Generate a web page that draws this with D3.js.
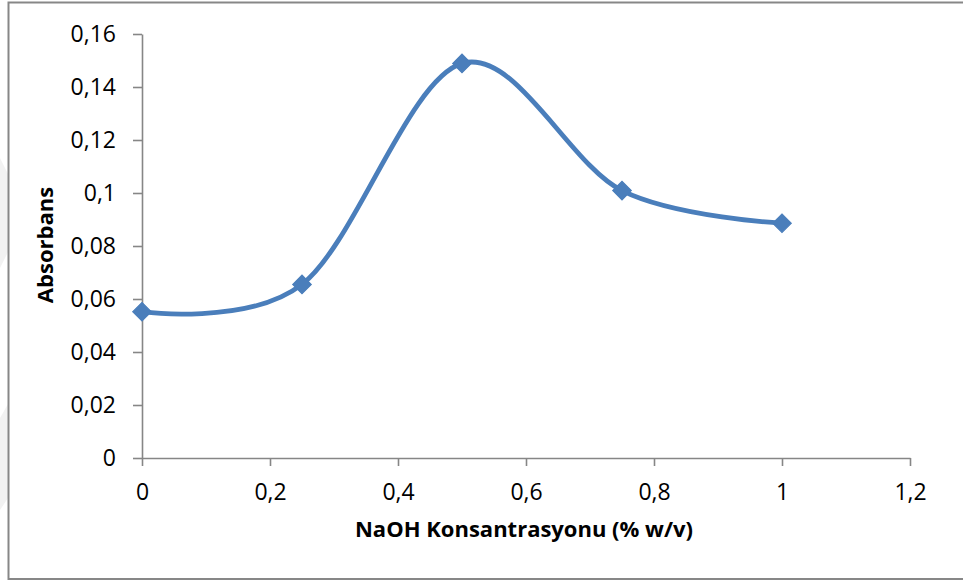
<!DOCTYPE html>
<html>
<head>
<meta charset="utf-8">
<script src="https://cdn.jsdelivr.net/npm/d3@7"></script>
<style>
  html, body { margin: 0; padding: 0; background: #ffffff; }
  svg { display: block; }
  text { font-family: "Open Sans", Lato, sans-serif; fill: #000; }
</style>
</head>
<body>
<svg id="chart" width="963" height="581"></svg>
<script>
// NaOH concentration (% w/v) and measured absorbance
const concentrations = [0, 0.25, 0.5, 0.75, 1];
const absorbance = [0.0552, 0.0655, 0.1489, 0.1009, 0.0886];

const xTicks = [0, 0.2, 0.4, 0.6, 0.8, 1, 1.2];
const yTicks = [0, 0.02, 0.04, 0.06, 0.08, 0.1, 0.12, 0.14, 0.16];

const xTitle = "NaOH Konsantrasyonu (% w/v)";
const yTitle = "Absorbans";

const W = 963, H = 581;
const plot = { left: 142, right: 910, top: 34, bottom: 458 };

const svg = d3.select("#chart");

// Faint shapes at the left edge
svg.append("path")
  .attr("d", "M0,158 L8,174 L8,252 L0,268 Z")
  .attr("fill", "#f2f2f2");
svg.append("path")
  .attr("d", "M0,418 L8,404 L8,498 L0,510 Z")
  .attr("fill", "#f2f2f2");

// Chart frame
svg.append("rect")
  .attr("x", 8.5).attr("y", 2.5)
  .attr("width", W + 10).attr("height", 576.5)
  .attr("fill", "none")
  .attr("stroke", "#878787")
  .attr("stroke-width", 2);

const x = d3.scaleLinear().domain([0, 1.2]).range([plot.left, plot.right]);
const y = d3.scaleLinear().domain([0, 0.16]).range([plot.bottom, plot.top]);

const locale = d3.formatLocale({ decimal: ",", thousands: ".", grouping: [3], currency: ["", ""] });
const fmt = locale.format("~f");

const axisColor = "#868686";

// Y axis
const gy = svg.append("g")
  .attr("transform", `translate(${plot.left},0)`)
  .call(d3.axisLeft(y).tickValues(yTicks).tickFormat(fmt)
    .tickSize(9).tickSizeOuter(0).tickPadding(17));

// X axis
const gx = svg.append("g")
  .attr("transform", `translate(0,${plot.bottom})`)
  .call(d3.axisBottom(x).tickValues(xTicks).tickFormat(fmt)
    .tickSize(8).tickSizeOuter(0).tickPadding(18));

[gx, gy].forEach(g => {
  g.select(".domain").attr("stroke", axisColor).attr("stroke-width", 1.6);
  g.selectAll(".tick line").attr("stroke", axisColor).attr("stroke-width", 1.6);
  g.selectAll(".tick text")
    .attr("fill", "#000")
    .style("font-family", "'Open Sans', Lato, sans-serif")
    .style("font-size", "23px");
});

// Axis titles
svg.append("text")
  .attr("x", (plot.left + plot.right) / 2 - 2)
  .attr("y", 537)
  .attr("text-anchor", "middle")
  .style("font-size", "22px")
  .style("font-weight", "bold")
  .text(xTitle);

svg.append("text")
  .attr("transform", `translate(53,${(plot.top + plot.bottom) / 2 - 1}) rotate(-90)`)
  .attr("text-anchor", "middle")
  .style("font-size", "22px")
  .style("font-weight", "bold")
  .text(yTitle);

// Smoothed series line
const pts = concentrations.map((c, i) => [c, absorbance[i]]);

const line = d3.line()
  .x(d => x(d[0]))
  .y(d => y(d[1]))
  .curve(d3.curveCardinal.tension(0));

svg.append("path")
  .datum(pts)
  .attr("d", line)
  .attr("fill", "none")
  .attr("stroke", "#4a7ebb")
  .attr("stroke-width", 4.8)
  .attr("stroke-linecap", "round");

// Diamond markers
svg.append("g")
  .selectAll("path")
  .data(pts)
  .join("path")
  .attr("d", d3.symbol(d3.symbolSquare, 175))
  .attr("transform", d => `translate(${x(d[0])},${y(d[1])}) rotate(45)`)
  .attr("fill", "#4a7ebb")
  .attr("stroke", "#4a7ebb")
  .attr("stroke-width", 1);
</script>
</body>
</html>
